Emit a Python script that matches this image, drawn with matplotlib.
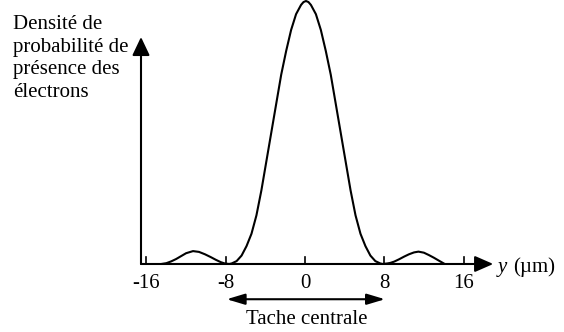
import matplotlib.pyplot as plt

plt.rcParams['font.family'] = ['Liberation Serif', 'DejaVu Serif']

# probability density (y in micrometres, peak = 1)
y_pos = [-14.5, -14.0, -13.5, -13.0, -12.5, -12.0, -11.3, -10.7, -10.1, -9.5, -9.0, -8.5, -8.1,
         -7.65, -7.4, -6.9, -6.4, -5.9, -5.4, -4.9, -4.4, -3.9, -3.4, -2.9, -2.4, -1.9, -1.4, -0.9, -0.4,
         -0.15, 0.1, 0.35,
         0.6, 1.1, 1.6, 2.1, 2.6, 3.1, 3.6, 4.1, 4.6, 5.1, 5.6, 6.1, 6.6, 7.1, 7.6, 7.85,
         8.3, 8.6, 9.0, 9.5, 10.0, 10.5, 11.0, 11.45, 12.0, 12.5, 13.0, 13.5, 14.1]
density = [0.0, 0.003, 0.010, 0.019, 0.030, 0.041, 0.049, 0.046, 0.037, 0.026, 0.016, 0.007, 0.002,
           0.0, 0.002, 0.011, 0.032, 0.068, 0.115, 0.185, 0.280, 0.390, 0.500, 0.610, 0.720, 0.810, 0.890, 0.950, 0.985,
           0.996, 1.0, 0.996,
           0.985, 0.950, 0.890, 0.810, 0.720, 0.610, 0.500, 0.390, 0.280, 0.185, 0.115, 0.068, 0.032, 0.011, 0.002, 0.0,
           0.002, 0.004, 0.009, 0.018, 0.028, 0.037, 0.044, 0.047, 0.043, 0.034, 0.024, 0.013, 0.0]

ticks = [-16, -8, 0, 8, 16]
tick_labels = ['-16', '-8', '0', '8', '16']

fig = plt.figure(figsize=(5.64, 3.32), dpi=100)
ax = fig.add_axes([0, 0, 1, 1])
ax.set_xlim(-30.78, 26.14)
ax.set_ylim(-0.2586, 1.0038)
ax.axis('off')

fs = 15
lw = 1.5

# curve
ax.plot(y_pos, density, color='black', lw=lw, solid_capstyle='round', solid_joinstyle='round')

# axes with arrows
x0 = -16.55
ax.annotate('', xy=(19.0, 0), xytext=(x0, 0),
            arrowprops=dict(arrowstyle='-|>,head_length=0.8,head_width=0.35',
                            mutation_scale=14, color='black', lw=lw,
                            shrinkA=0, shrinkB=0))
ax.annotate('', xy=(x0, 0.863), xytext=(x0, 0),
            arrowprops=dict(arrowstyle='-|>,head_length=0.8,head_width=0.38',
                            mutation_scale=14, color='black', lw=lw,
                            shrinkA=0, shrinkB=0))

# ticks and labels
for t, lab in zip(ticks, tick_labels):
    ax.plot([t, t], [0, 0.025], color='black', lw=1.2)
    ax.text(t, -0.09, lab, ha='center', va='baseline', fontsize=fs)

# axis label
ax.text(19.5, -0.012, 'y', style='italic', ha='left', va='center', fontsize=fs)
ax.text(21.0, -0.012, '(µm)', ha='left', va='center', fontsize=fs)

# y label (left text block)
lines = ['Densité de', 'probabilité de', 'présence des', 'électrons']
for i, s in enumerate(lines):
    ax.text(-29.5, 0.892 - i * 0.0852, s, ha='left', va='baseline', fontsize=fs)

# central spot arrow
ax.annotate('', xy=(-7.9, -0.134), xytext=(8.07, -0.134),
            arrowprops=dict(arrowstyle='<|-|>,head_length=1.1,head_width=0.33',
                            mutation_scale=10, color='black', lw=lw,
                            shrinkA=0, shrinkB=0))
ax.text(0.2, -0.23, 'Tache centrale', ha='center', va='baseline', fontsize=fs)

fig.savefig('out.png', dpi=100)
